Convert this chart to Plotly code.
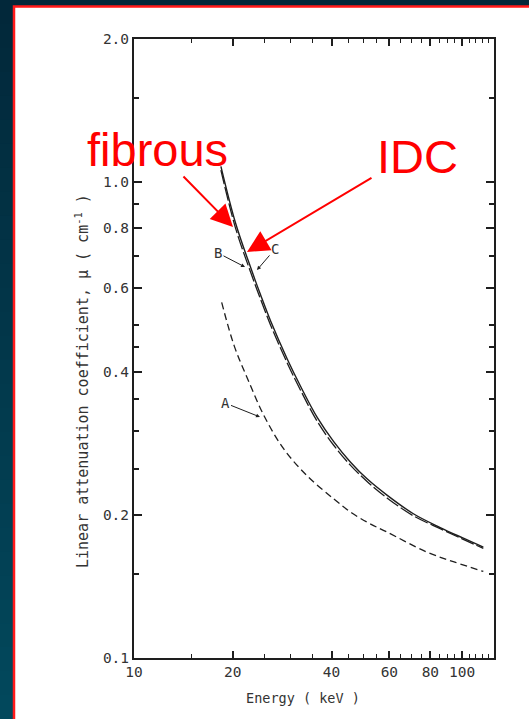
import plotly.graph_objects as go

# ---------------- data ----------------
energy_bc = [18.4, 20.4, 22.7, 24.3, 26.1, 29.3, 32.2, 36.2, 40.6, 45.7, 51.3, 59.0, 71.0, 85.7, 100.0, 116.0]
mu_c = [1.08, 0.82, 0.66, 0.580, 0.510, 0.425, 0.372, 0.320, 0.285, 0.258, 0.238, 0.220, 0.201, 0.188, 0.179, 0.171]
mu_b = [1.06, 0.80, 0.645, 0.568, 0.500, 0.417, 0.365, 0.314, 0.280, 0.254, 0.235, 0.217, 0.199, 0.187, 0.178, 0.170]

energy_a = [18.5, 20.2, 22.2, 24.9, 28.6, 33.7, 40.6, 46.0, 52.0, 59.0, 78.0, 95.0, 116.0]
mu_a = [0.559, 0.453, 0.386, 0.323, 0.275, 0.2415, 0.216, 0.202, 0.192, 0.184, 0.167, 0.159, 0.152]

x_tickvals = [10, 20, 40, 60, 80, 100]
x_ticktext = ["10", "20", "40", "60", "80", "100"]
x_minor = [15, 25, 30, 35, 45, 50, 55, 65, 70, 75, 85, 90, 95, 105, 110, 115, 120]
y_tickvals = [0.1, 0.2, 0.4, 0.6, 0.8, 1.0, 2.0]
y_ticktext = ["0.1", "0.2", "0.4", "0.6", "0.8", "1.0", "2.0"]
y_minor = [0.15, 0.25, 0.3, 0.35, 0.45, 0.5, 0.7, 0.9, 1.5]

# ---------------- figure ----------------
W, H = 529, 719
ML, MR, MT, MB = 134, 35, 39, 61
PW, PH = W - ML - MR, H - MT - MB


def px(xp):
    return (xp - ML) / PW


def py(yp):
    return (H - MB - yp) / PH


ink = "#1e1e1e"
txt = "#333333"
mono = "DejaVu Sans Mono"

fig = go.Figure()
fig.add_trace(go.Scatter(x=energy_a, y=mu_a, mode="lines", line=dict(color=ink, width=1.3, dash="7px,4px"),
                         line_shape="spline", hoverinfo="skip", showlegend=False))
fig.add_trace(go.Scatter(x=energy_bc, y=mu_b, mode="lines", line=dict(color=ink, width=1.3, dash="14px,3px"),
                         line_shape="spline", hoverinfo="skip", showlegend=False))
fig.add_trace(go.Scatter(x=energy_bc, y=mu_c, mode="lines", line=dict(color=ink, width=1.4),
                         line_shape="spline", hoverinfo="skip", showlegend=False))

# background: teal gradient + white panel with red border
shapes = []
n = 30
top = (2, 40, 58)
bot = (2, 72, 92)
for i in range(n):
    t = i / (n - 1)
    c = tuple(round(top[k] + (bot[k] - top[k]) * t) for k in range(3))
    y0p = H * i / n
    y1p = H * (i + 1) / n + 1
    shapes.append(dict(type="rect", xref="paper", yref="paper", layer="below",
                       x0=px(-5), x1=px(W + 5), y0=py(y1p), y1=py(y0p),
                       fillcolor="rgb(%d,%d,%d)" % c, line=dict(width=0)))
shapes.append(dict(type="rect", xref="paper", yref="paper", layer="below",
                   x0=px(14), x1=px(W + 20), y0=py(H + 20), y1=py(6.5),
                   fillcolor="white", line=dict(color="#ff1a1a", width=2.5)))

axis_font = dict(family=mono, size=14.5, color=txt)
fig.update_layout(
    width=W, height=H,
    margin=dict(l=ML, r=MR, t=MT, b=MB),
    paper_bgcolor="rgb(2,56,75)",
    plot_bgcolor="rgba(0,0,0,0)",
    shapes=shapes,
    xaxis=dict(type="log", range=[1, 2.097], tickvals=x_tickvals, ticktext=x_ticktext,
               ticks="inside", ticklen=7, tickwidth=1.5, tickcolor=ink,
               showline=True, linewidth=2, linecolor=ink, mirror="ticks",
               showgrid=False, zeroline=False, tickfont=axis_font,
               minor=dict(tickvals=x_minor, ticks="inside", ticklen=4, tickwidth=1.2, tickcolor=ink,
                          showgrid=False)),
    yaxis=dict(type="log", range=[-1, 0.30103], tickvals=y_tickvals, ticktext=y_ticktext,
               ticks="inside", ticklen=8, tickwidth=2, tickcolor=ink,
               showline=True, linewidth=2, linecolor=ink, mirror="ticks",
               showgrid=False, zeroline=False, tickfont=axis_font,
               minor=dict(tickvals=y_minor, ticks="inside", ticklen=5, tickwidth=1.5, tickcolor=ink,
                          showgrid=False)),
)


def label(xp, yp, text, **kw):
    d = dict(xref="paper", yref="paper", x=px(xp), y=py(yp), text=text, showarrow=False,
             xanchor="center", yanchor="middle")
    d.update(kw)
    return d


def pointer(tipx, tipy, textx, texty, text, **kw):
    d = dict(xref="paper", yref="paper", x=px(tipx), y=py(tipy), ax=textx - tipx, ay=texty - tipy,
             text=text, showarrow=True, xanchor="center", yanchor="middle")
    d.update(kw)
    return d


lab_font = dict(family=mono, size=14, color=txt)
annotations = [
    # axis titles
    label(82, 381, "Linear attenuation coefficient, μ ( cm<sup>-1</sup> )", textangle=-90,
          font=dict(family=mono, size=15, color=txt)),
    label(303, 698, "Energy ( keV )", font=dict(family=mono, size=13.5, color=txt)),
    # curve labels
    pointer(260, 417, 225, 403, "A", arrowhead=2, arrowsize=0.8, arrowwidth=1, arrowcolor=ink, font=lab_font),
    pointer(245, 267, 218, 253, "B", arrowhead=2, arrowsize=0.8, arrowwidth=1, arrowcolor=ink, font=lab_font),
    pointer(257, 270, 275, 249, "C", arrowhead=2, arrowsize=0.8, arrowwidth=1, arrowcolor=ink, font=lab_font),
    # red slide annotations
    label(157, 149, "fibrous", font=dict(family="Liberation Sans", size=47, color="#ff0000")),
    label(417, 156, "IDC", font=dict(family="Liberation Sans", size=47, color="#ff0000")),
    pointer(233, 227, 182, 175, "", arrowhead=2, arrowsize=2.2, arrowwidth=2, arrowcolor="#ff0000"),
    pointer(247, 252, 373, 177, "", arrowhead=2, arrowsize=2.2, arrowwidth=2, arrowcolor="#ff0000"),
]
fig.update_layout(annotations=annotations)

fig.write_html("out.html", config={"displayModeBar": False},
               post_script="document.body.style.margin='0';document.body.style.overflow='hidden';")
